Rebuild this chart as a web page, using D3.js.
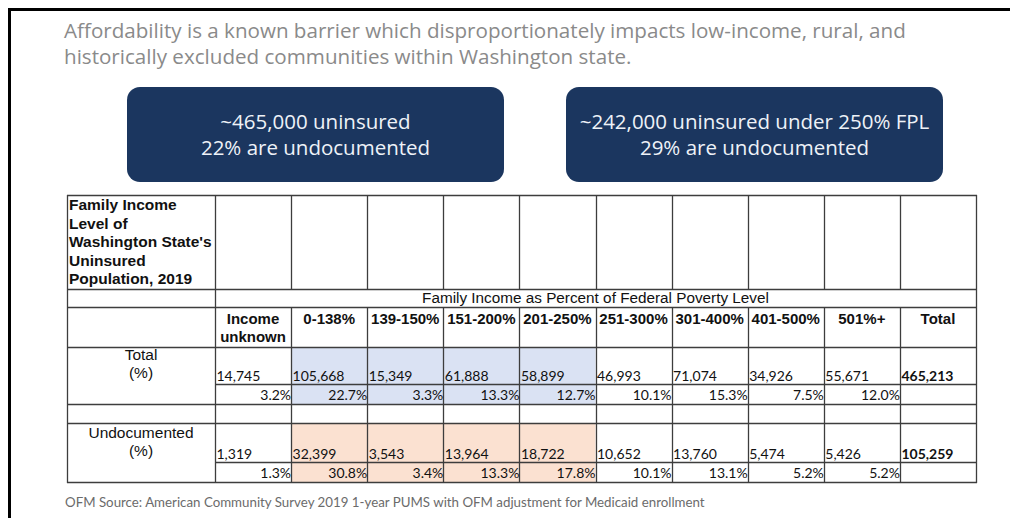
<!DOCTYPE html>
<html>
<head>
<meta charset="utf-8">
<script src="https://cdn.jsdelivr.net/npm/d3@7"></script>
<style>
  body { margin: 0; background: #fff; }
  svg { display: block; }
</style>
</head>
<body>
<script>
// Data
var headline = ["Affordability is a known barrier which disproportionately impacts low-income, rural, and",
                "historically excluded communities within Washington state."];
var calloutLeft = ["~465,000 uninsured", "22% are undocumented"];
var calloutRight = ["~242,000 uninsured under 250% FPL", "29% are undocumented"];
var tableTitle = ["Family Income", "Level of", "Washington State's", "Uninsured", "Population, 2019"];
var spanLabel = "Family Income as Percent of Federal Poverty Level";
var columns = ["Income\nunknown", "0-138%", "139-150%", "151-200%", "201-250%",
               "251-300%", "301-400%", "401-500%", "501%+", "Total"];
var shaded = ["0-138%", "139-150%", "151-200%", "201-250%"];
var totalCounts = [14745, 105668, 15349, 61888, 58899, 46993, 71074, 34926, 55671, 465213];
var totalPct = [3.2, 22.7, 3.3, 13.3, 12.7, 10.1, 15.3, 7.5, 12.0, null];
var undocCounts = [1319, 32399, 3543, 13964, 18722, 10652, 13760, 5474, 5426, 105259];
var undocPct = [1.3, 30.8, 3.4, 13.3, 17.8, 10.1, 13.1, 5.2, 5.2, null];
var source = "OFM Source: American Community Survey 2019 1-year PUMS with OFM adjustment for Medicaid enrollment";

var w = 1010, h = 518;
var svg = d3.select("body").append("svg").attr("width", w).attr("height", h);

//Slide frame (left and top black rule)
svg.append("path")
  .attr("d", "M9.5,518 L9.5,9.5 L1010,9.5")
  .attr("fill", "none").attr("stroke", "#000").attr("stroke-width", 3);

//Headline
svg.append("g").selectAll("text").data(headline).enter().append("text")
  .attr("x", 64)
  .attr("y", function(d, i) { return 38 + i * 25.5; })
  .attr("font-family", "Open Sans")
  .attr("font-size", 20.6)
  .attr("fill", "#8a8a8a")
  .text(function(d) { return d; });

//Callout boxes
var callouts = [{x: 127, lines: calloutLeft}, {x: 566, lines: calloutRight}];
var boxW = 377, boxH = 95, boxY = 87;
var cg = svg.selectAll("g.callout").data(callouts).enter().append("g").attr("class", "callout");
cg.append("rect")
  .attr("x", function(d) { return d.x; })
  .attr("y", boxY)
  .attr("width", boxW).attr("height", boxH)
  .attr("rx", 13)
  .attr("fill", "#1b365f");
cg.each(function(d) {
  d3.select(this).selectAll("text").data(d.lines).enter().append("text")
    .attr("x", d.x + boxW / 2)
    .attr("y", function(t, i) { return 129 + i * 26; })
    .attr("text-anchor", "middle")
    .attr("font-family", "Open Sans")
    .attr("font-size", 20.5)
    .attr("fill", "#eef2f8")
    .text(function(t) { return t; });
});

//Table layout
var x0 = 67, x1 = 215, x2 = 976;
var x = d3.scaleBand().domain(columns).range([x1, x2]).padding(0);
var rows = {top: 195, span: 289, head: 307, tot: 347, totPct: 384, gap: 404, und: 423, undPct: 462, bottom: 482};
var lineColor = "#3d3d3d";
var fmtN = d3.format(",");
var fmtP = function(v) { return d3.format(".1f")(v) + "%"; };

var tbl = svg.append("g");

//Shading
tbl.selectAll("rect.blue").data(shaded).enter().append("rect")
  .attr("x", function(d) { return x(d); })
  .attr("y", rows.tot).attr("width", x.bandwidth()).attr("height", rows.gap - rows.tot)
  .attr("fill", "#dae2f3");
tbl.selectAll("rect.peach").data(shaded).enter().append("rect")
  .attr("x", function(d) { return x(d); })
  .attr("y", rows.und).attr("width", x.bandwidth()).attr("height", rows.bottom - rows.und)
  .attr("fill", "#fbe1d1");

//Grid lines
function hline(y, a, b) {
  tbl.append("line").attr("x1", a).attr("x2", b).attr("y1", y + 0.5).attr("y2", y + 0.5)
    .attr("stroke", lineColor).attr("stroke-width", 1.3);
}
function vline(xx, a, b) {
  tbl.append("line").attr("x1", xx + 0.5).attr("x2", xx + 0.5).attr("y1", a).attr("y2", b)
    .attr("stroke", lineColor).attr("stroke-width", 1.3);
}
[rows.top, rows.span, rows.head, rows.tot, rows.gap, rows.und, rows.bottom].forEach(function(y) { hline(y, x0, x2 + 1); });
[rows.totPct, rows.undPct].forEach(function(y) { hline(y, x1, x2 + 1); });
vline(x0, rows.top, rows.bottom + 1);
vline(x1, rows.top, rows.bottom + 1);
vline(x2, rows.top, rows.bottom + 1);
columns.slice(1).forEach(function(c) {
  vline(Math.round(x(c)), rows.top, rows.span);
  vline(Math.round(x(c)), rows.head, rows.bottom);
});

//Table title cell
tbl.append("g").selectAll("text").data(tableTitle).enter().append("text")
  .attr("x", x0 + 2)
  .attr("y", function(d, i) { return 210 + i * 18.6; })
  .attr("font-family", "Liberation Sans")
  .attr("font-weight", "bold")
  .attr("font-size", 15.5)
  .attr("fill", "#111")
  .text(function(d) { return d; });

//Spanning header
tbl.append("text")
  .attr("x", (x1 + x2) / 2).attr("y", 303)
  .attr("text-anchor", "middle")
  .attr("font-family", "Liberation Sans").attr("font-size", 15.3).attr("fill", "#111")
  .text(spanLabel);

//Column headers
var hd = tbl.selectAll("text.head").data(columns).enter().append("text")
  .attr("class", "head")
  .attr("text-anchor", "middle")
  .attr("font-family", "Liberation Sans").attr("font-weight", "bold")
  .attr("font-size", 15).attr("fill", "#111");
hd.selectAll("tspan").data(function(d) { return d.split("\n").map(function(t) { return {t: t, c: d}; }); })
  .enter().append("tspan")
  .attr("x", function(d) { return x(d.c) + x.bandwidth() / 2; })
  .attr("y", function(d, i) { return 324 + i * 18; })
  .text(function(d) { return d.t; });

//Row labels
var rowLabels = [{t: ["Total", "(%)"], y: 360}, {t: ["Undocumented", "(%)"], y: 438}];
rowLabels.forEach(function(r) {
  tbl.append("g").selectAll("text").data(r.t).enter().append("text")
    .attr("x", (x0 + x1) / 2)
    .attr("y", function(d, i) { return r.y + i * 17.5; })
    .attr("text-anchor", "middle")
    .attr("font-family", "Liberation Sans").attr("font-size", 15.5).attr("fill", "#111")
    .text(function(d) { return d; });
});

//Values
function countRow(vals, y) {
  tbl.append("g").selectAll("text").data(vals).enter().append("text")
    .attr("x", function(d, i) { return x(columns[i]) + 1.5; })
    .attr("y", y)
    .attr("font-family", "Lato").attr("font-size", 14).attr("fill", "#111")
    .attr("font-weight", function(d, i) { return columns[i] == "Total" ? "bold" : "normal"; })
    .text(function(d) { return fmtN(d); });
}
function pctRow(vals, y) {
  tbl.append("g").selectAll("text").data(vals.filter(function(v) { return v != null; })).enter().append("text")
    .attr("x", function(d, i) { return x(columns[i]) + x.bandwidth(); })
    .attr("y", y)
    .attr("text-anchor", "end")
    .attr("font-family", "Lato").attr("font-size", 14).attr("fill", "#111")
    .text(function(d) { return fmtP(d); });
}
countRow(totalCounts, 381);
pctRow(totalPct, 400);
countRow(undocCounts, 459);
pctRow(undocPct, 478);

//Source note
svg.append("text")
  .attr("x", 65).attr("y", 507)
  .attr("font-family", "Lato").attr("font-size", 13.3).attr("fill", "#6b6b6b")
  .text(source);
</script>
</body>
</html>
